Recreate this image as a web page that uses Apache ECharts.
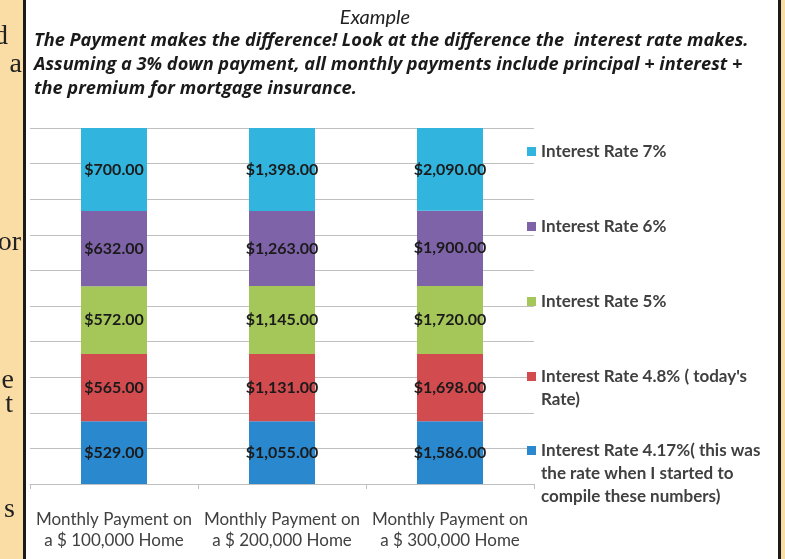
<!DOCTYPE html>
<html>
<head>
<meta charset="utf-8">
<script src="https://cdn.jsdelivr.net/npm/echarts@6/dist/echarts.min.js"></script>
<style>
  html, body { margin: 0; padding: 0; background: #fff; }
  #main { width: 785px; height: 559px; }
</style>
</head>
<body>
<div id="main"></div>
<script>
// categories and monthly payments
var homes = ['Monthly Payment on\na $ 100,000 Home', 'Monthly Payment on\na $ 200,000 Home', 'Monthly Payment on\na $ 300,000 Home'];
var rateNames = [
  'Interest Rate 4.17%( this was\nthe rate when I started to\ncompile these numbers)',
  'Interest Rate 4.8% ( today\'s\nRate)',
  'Interest Rate 5%',
  'Interest Rate 6%',
  'Interest Rate 7%'
];
var rate417 = [529, 1055, 1586];
var rate48 = [565, 1131, 1698];
var rate5 = [572, 1145, 1720];
var rate6 = [632, 1263, 1900];
var rate7 = [700, 1398, 2090];
var colors = ['#2A88CF', '#D24B4F', '#A5C659', '#7E63A8', '#31B5DE'];

var allRates = [rate417, rate48, rate5, rate6, rate7];
var totals = homes.map(function (h, i) {
  var s = 0;
  allRates.forEach(function (r) { s += r[i]; });
  return s;
});

function money(v) {
  return '$' + v.toLocaleString('en-US', { minimumFractionDigits: 2, maximumFractionDigits: 2 });
}

var myChart = echarts.init(document.getElementById('main'));

var series = allRates.map(function (r, k) {
  return {
    name: rateNames[k],
    type: 'bar',
    stack: 'pay',
    barWidth: 66,
    itemStyle: { color: colors[k] },
    label: {
      show: true,
      position: 'inside',
      color: '#1a1a1a',
      fontFamily: 'Lato',
      fontWeight: 'bold',
      fontSize: 16,
      formatter: function (p) { return money(r[p.dataIndex]); }
    },
    data: r.map(function (v, i) { return v / totals[i] * 100; })
  };
});

// one legend per entry; blank lines on top keep the marker beside the first line
var legendTops = [393, 342, 290, 215, 140];
var legends = rateNames.map(function (n, k) {
  var lines = n.split('\n').length;
  return {
    data: [n],
    left: 527,
    top: legendTops[k],
    padding: 0,
    itemWidth: 9,
    itemHeight: 9,
    icon: 'rect',
    selectedMode: false,
    formatter: function (name) {
      return new Array(lines).join('\n') + name;
    },
    textStyle: {
      color: '#404040',
      fontFamily: 'Lato',
      fontWeight: 'bold',
      fontSize: 17,
      lineHeight: 23
    }
  };
});

var sideLetters = [
  { t: 'd', x: 8, y: 37 },
  { t: 'a', x: 22, y: 65 },
  { t: 'or', x: 21, y: 243 },
  { t: 'e', x: 14, y: 381 },
  { t: 't', x: 13, y: 405 },
  { t: 's', x: 15, y: 510 }
];

var option = {
  backgroundColor: '#ffffff',
  title: [
    {
      text: 'Example',
      left: 370,
      top: 3,
      textAlign: 'center',
      textStyle: { fontFamily: 'Lato', fontStyle: 'italic', fontWeight: 'normal', fontSize: 20, color: '#222' }
    },
    {
      text: 'The Payment makes the difference! Look at the difference the  interest rate makes.\nAssuming a 3% down payment, all monthly payments include principal + interest +\nthe premium for mortgage insurance.',
      left: 34,
      top: 29,
      padding: 0,
      textStyle: { fontFamily: 'Open Sans', fontStyle: 'italic', fontWeight: 'bold', fontSize: 18.2, lineHeight: 24, color: '#1a1a1a' }
    }
  ],
  legend: legends,
  grid: { left: 30, right: 251, top: 128, bottom: 75 },
  xAxis: {
    type: 'category',
    data: homes,
    axisLine: { lineStyle: { color: '#BFBFBF' } },
    axisTick: { show: true, length: 5, lineStyle: { color: '#BFBFBF' } },
    axisLabel: { interval: 0, color: '#404040', fontFamily: 'Lato', fontSize: 17, lineHeight: 21, margin: 25 }
  },
  yAxis: {
    type: 'value',
    min: 0,
    max: 100,
    interval: 10,
    axisLabel: { show: false },
    axisLine: { show: false },
    axisTick: { show: false },
    splitLine: { lineStyle: { color: '#BFBFBF' } }
  },
  graphic: [
    { type: 'rect', shape: { x: 0, y: 0, width: 24, height: 559 }, style: { fill: '#FADDA5' } },
    { type: 'rect', shape: { x: 779, y: 0, width: 6, height: 559 }, style: { fill: '#FADDA5' } }
  ].concat(sideLetters.map(function (s) {
    return {
      type: 'text',
      x: s.x,
      y: s.y,
      style: {
        text: s.t,
        fill: '#222',
        font: '28px "Liberation Serif"',
        textAlign: 'right',
        textVerticalAlign: 'middle'
      }
    };
  })).concat([
    { type: 'rect', shape: { x: 23, y: 0, width: 3, height: 559 }, style: { fill: '#1a1a1a' } },
    { type: 'rect', shape: { x: 778, y: 0, width: 3, height: 559 }, style: { fill: '#1a1a1a' } }
  ]),
  series: series
};

myChart.setOption(option);

window.onresize = function () {
  myChart.resize();
};
</script>
</body>
</html>
